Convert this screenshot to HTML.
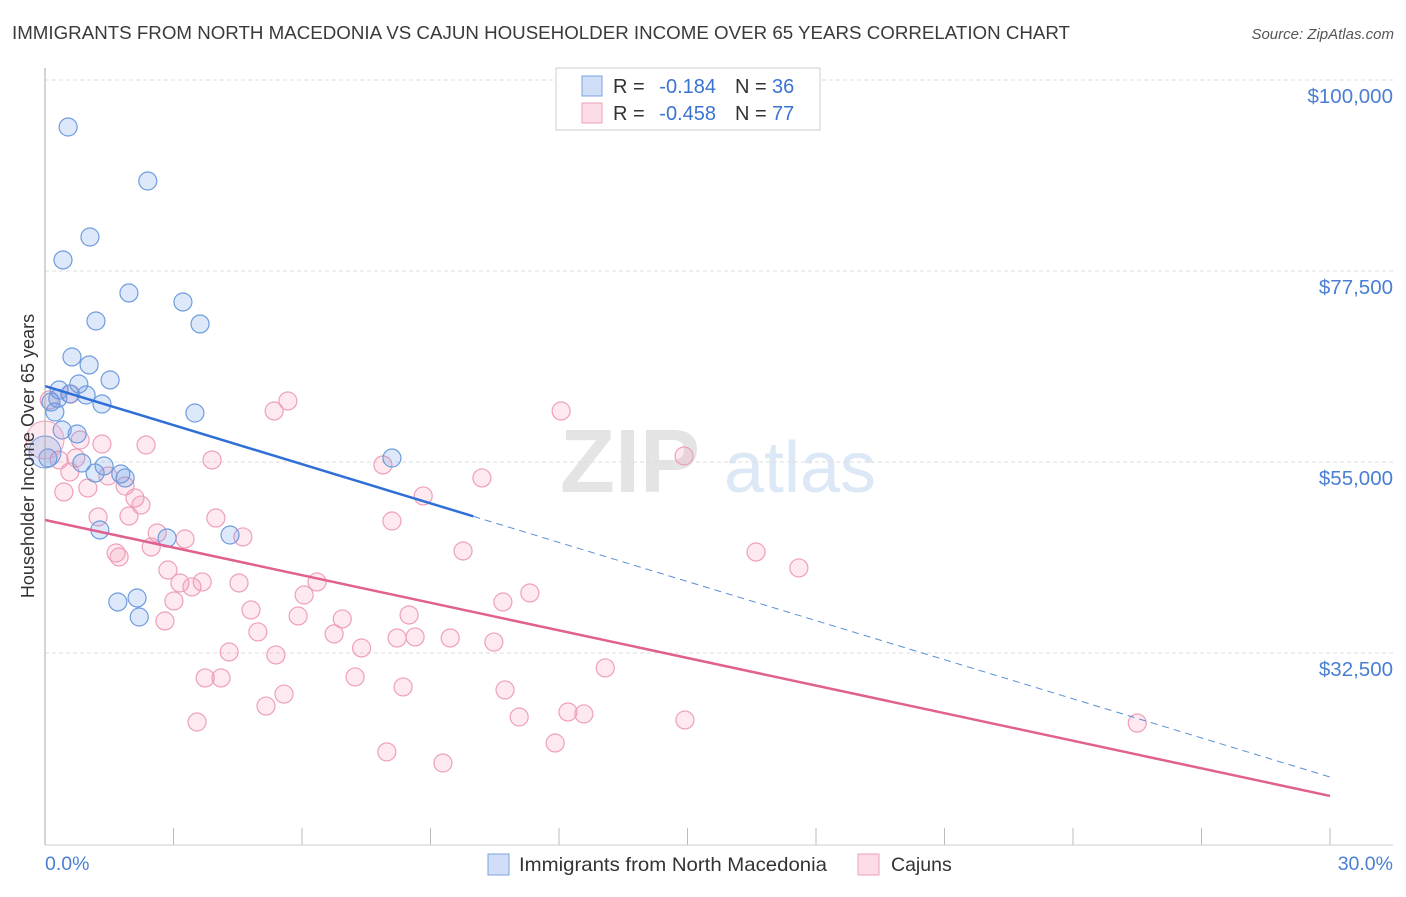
<!DOCTYPE html>
<html><head><meta charset="utf-8"><style>
body{margin:0;background:#fff;font-family:"Liberation Sans",sans-serif}
svg text{font-family:"Liberation Sans",sans-serif}
</style></head><body>
<svg id="c" width="1406" height="892">
<text x="12" y="39" font-size="18" fill="#3a3a3a" textLength="1058" lengthAdjust="spacingAndGlyphs">IMMIGRANTS FROM NORTH MACEDONIA VS CAJUN HOUSEHOLDER INCOME OVER 65 YEARS CORRELATION CHART</text>
<text x="1394" y="39" font-size="15" fill="#555" font-style="italic" text-anchor="end">Source: ZipAtlas.com</text>
<text x="630" y="492" font-size="90" fill="#e4e4e4" font-family="Liberation Serif" font-weight="bold" text-anchor="middle">ZIP</text>
<text x="800" y="492" font-size="72" fill="#dce8f6" text-anchor="middle">atlas</text>
<g id="grid"></g><g id="pts"></g><g id="trend"></g>
<line x1="45" y1="68" x2="45" y2="845" stroke="#aaa"/>
<line x1="45" y1="845" x2="1393" y2="845" stroke="#ccc"/>
<text x="45" y="870" font-size="19.5" fill="#4a7fd4">0.0%</text>
<text x="1393" y="870" font-size="19.5" fill="#4a7fd4" text-anchor="end">30.0%</text>
<text transform="translate(34,456) rotate(-90)" font-size="18" fill="#333" text-anchor="middle">Householder Income Over 65 years</text>
<g>
<rect x="556" y="68" width="264" height="62" fill="#fff" stroke="#ccc"/>
<rect x="582" y="76" width="20" height="20" fill="rgba(100,150,230,0.3)" stroke="#7aa3e0"/>
<rect x="582" y="103" width="20" height="20" fill="rgba(244,143,177,0.3)" stroke="#eea0ba"/>
<text x="613" y="93" font-size="20" fill="#333">R =</text>
<text x="716" y="93" font-size="20" fill="#3a73d0" text-anchor="end">-0.184</text>
<text x="735" y="93" font-size="20" fill="#333">N =</text>
<text x="772" y="93" font-size="20" fill="#3a73d0">36</text>
<text x="613" y="120" font-size="20" fill="#333">R =</text>
<text x="716" y="120" font-size="20" fill="#3a73d0" text-anchor="end">-0.458</text>
<text x="735" y="120" font-size="20" fill="#333">N =</text>
<text x="772" y="120" font-size="20" fill="#3a73d0">77</text>
</g>
<g>
<rect x="488" y="854" width="21" height="21" fill="rgba(100,150,230,0.3)" stroke="#7aa3e0"/>
<text x="519" y="871" font-size="19.5" fill="#333" textLength="308" lengthAdjust="spacingAndGlyphs">Immigrants from North Macedonia</text>
<rect x="858" y="854" width="21" height="21" fill="rgba(244,143,177,0.3)" stroke="#eea0ba"/>
<text x="891" y="871" font-size="19.5" fill="#333">Cajuns</text>
</g>
</svg>
<script>
const yTicks=[100000,77500,55000,32500];
const yTickLabels=["$100,000","$77,500","$55,000","$32,500"];
const xTicks=[0,3,6,9,12,15,18,21,24,27,30];
const blueX=[0.54,2.40,1.05,0.42,1.96,3.22,1.19,3.62,0.63,1.03,1.52,0.79,0.33,0.58,0.96,0.14,1.33,0.23,3.50,0.40,0.75,8.10,0.07,0.86,1.38,1.17,1.77,1.87,1.28,2.85,4.32,1.70,2.15,2.20,0.30];
const blueY=[94463,88100,81505,78800,74910,73850,71610,71260,67370,66430,64660,64190,63480,63010,62890,62070,61830,60890,60770,58770,58300,55470,55470,54880,54530,53700,53590,53120,46990,46050,46400,38510,38980,36740,62500];
const pinkX=[0.82,0.33,0.58,0.72,0.44,1.00,1.33,1.47,1.87,2.10,2.24,1.24,1.96,2.36,2.62,2.48,1.66,1.73,3.27,2.87,3.15,3.43,3.67,3.01,2.80,3.99,3.90,4.62,4.53,4.81,4.97,4.30,5.39,3.74,4.11,3.55,5.16,5.58,5.35,5.67,5.91,6.05,6.35,6.75,6.94,7.39,7.24,7.98,7.89,8.10,8.22,8.36,8.50,8.64,8.83,9.29,9.46,9.76,10.20,10.48,10.69,10.74,11.07,11.32,11.91,12.05,12.21,12.58,13.08,14.92,14.94,16.60,17.60,25.50,0.10,0.60];
const pinkY=[57590,55240,53830,55470,51470,51940,57120,53350,52170,50760,49930,48520,48640,57000,46640,44990,44280,43810,45930,42280,40750,40280,40870,38630,36270,48400,55240,46170,40750,37570,34980,32620,32270,29560,29560,24370,26250,27660,61010,62190,36860,39330,40870,34750,36510,33090,29680,20850,54650,48050,34270,28500,36980,34390,51000,19540,34270,44520,53120,33790,38510,28150,24960,39570,21900,61010,25550,25320,30740,55710,24610,44400,42520,24250,62300,63000];
const bigBlue=[0,56180], bigPink=[0,57590];
const blueTrend=[63950,17890], blueSolidEnd=10;
const pinkTrend=[48170,15660];
const X=v=>45+v*(1285/30), Y=v=>80+(100000-v)*191/22500;
const NS="http://www.w3.org/2000/svg";
function mk(t,a,p){const e=document.createElementNS(NS,t);for(const k in a)e.setAttribute(k,a[k]);p.appendChild(e);return e;}
const g=document.getElementById('grid');
yTicks.forEach((t,i)=>{
 const l=mk('line',{x1:45,x2:1393,y1:Y(t),y2:Y(t),stroke:'#ddd','stroke-dasharray':'4,3'},g);
 
 
 const tx=mk('text',{x:1393,y:Y(t)+23,'font-size':20.5,fill:'#4a7fd4','text-anchor':'end'},g);
 tx.textContent=yTickLabels[i];
 
 
});
xTicks.forEach(t=>{
 const l=mk('line',{x1:X(t),x2:X(t),y1:828,y2:845,stroke:'#bbb'},g);
 
 
});
const p=document.getElementById('pts');
pinkX.forEach((x,i)=>{
 const c=mk('circle',{cx:X(x),cy:Y(pinkY[i]),r:9,fill:'rgba(244,143,177,0.2)',stroke:'#eea0ba','stroke-width':1.2},p);
 
 
});
blueX.forEach((x,i)=>{
 const c=mk('circle',{cx:X(x),cy:Y(blueY[i]),r:9,fill:'rgba(100,150,230,0.22)',stroke:'#6f9cde','stroke-width':1.2},p);
 
 
});
let bc=mk('circle',{cx:X(bigPink[0]),cy:Y(bigPink[1]),r:19,fill:'rgba(244,143,177,0.2)',stroke:'#eea0ba'},p);


bc=mk('circle',{cx:X(bigBlue[0]),cy:Y(bigBlue[1]),r:16,fill:'rgba(100,150,230,0.22)',stroke:'#6f9cde'},p);


const tr=document.getElementById('trend');
const bAt=x=>blueTrend[0]+(blueTrend[1]-blueTrend[0])*x/30;
let l=mk('line',{x1:X(0),y1:Y(blueTrend[0]),x2:X(blueSolidEnd),y2:Y(bAt(blueSolidEnd)),stroke:'#2f6fd6','stroke-width':2.5},tr);


l=mk('line',{x1:X(blueSolidEnd),y1:Y(bAt(blueSolidEnd)),x2:X(30),y2:Y(blueTrend[1]),stroke:'#5b8fd6','stroke-width':1,'stroke-dasharray':'7,5'},tr);


l=mk('line',{x1:X(0),y1:Y(pinkTrend[0]),x2:X(30),y2:Y(pinkTrend[1]),stroke:'#e0608e','stroke-width':2.5},tr);


</script>
</body></html>
